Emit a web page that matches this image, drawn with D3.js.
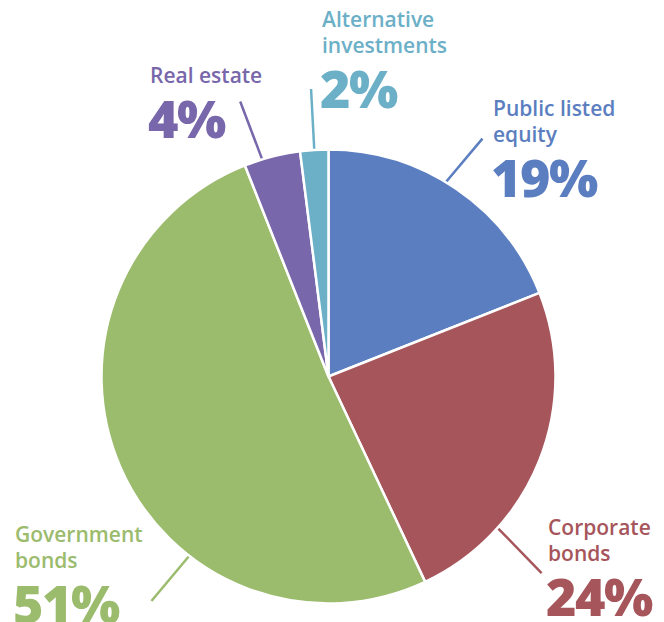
<!DOCTYPE html>
<html>
<head>
<meta charset="utf-8">
<script src="https://cdn.jsdelivr.net/npm/d3@7"></script>
<style>
  body { margin: 0; background: #fff; }
  svg { display: block; font-family: "Open Sans", Lato, sans-serif; }
</style>
</head>
<body>
<svg width="664" height="622"></svg>
<script>
// data, clockwise from 12 o'clock
const categories = ["Public listed equity", "Corporate bonds", "Government bonds", "Real estate", "Alternative investments"];
const shares = [19, 24, 51, 4, 2];
const labelLines = [["Public listed", "equity"], ["Corporate", "bonds"], ["Government", "bonds"], ["Real estate"], ["Alternative", "investments"]];
const colors = ["#5b7ec0", "#a6555b", "#9bbb6d", "#7867aa", "#6cb0c8"];

// where each leader line leaves the pie (percent along the circle) and where the label sits
const layout = [
  { at: 8.6, len: 57, dir: 40.7, x: 493, y: 116 },
  { at: 36.6, len: 63, dir: 136, x: 548, y: 535 },
  { at: 60.5, len: 59, dir: 220, x: 15, y: 542 },
  { at: 95.3, len: 62, dir: 339, x: 150, y: 83 },
  { at: 99.0, len: 61, dir: 357, x: 322, y: 27 }
];

const svg = d3.select("svg");
const cx = 328.5, cy = 376.5, radius = 227;

const g = svg.append("g").attr("transform", "translate(" + cx + "," + cy + ")");

const pie = d3.pie().sort(null).value(d => d);
const arcs = pie(shares);
const arc = d3.arc().innerRadius(0).outerRadius(radius);

const angle = d3.scaleLinear().domain([0, d3.sum(shares)]).range([0, 2 * Math.PI]);

// leader lines behind the slices
g.selectAll(".leader")
  .data(layout)
  .enter()
  .append("line")
  .attr("class", "leader")
  .attr("x1", d => (radius - 4) * Math.sin(angle(d.at)))
  .attr("y1", d => -(radius - 4) * Math.cos(angle(d.at)))
  .attr("x2", d => radius * Math.sin(angle(d.at)) + d.len * Math.sin(d.dir * Math.PI / 180))
  .attr("y2", d => -radius * Math.cos(angle(d.at)) - d.len * Math.cos(d.dir * Math.PI / 180))
  .attr("stroke", (d, i) => colors[i])
  .attr("stroke-width", 2.5);

g.selectAll(".slice")
  .data(arcs)
  .enter()
  .append("path")
  .attr("class", "slice")
  .attr("d", arc)
  .attr("fill", (d, i) => colors[i])
  .attr("stroke", "#fff")
  .attr("stroke-width", 2.5)
  .attr("stroke-linejoin", "round");

const labels = svg.selectAll(".label")
  .data(layout)
  .enter()
  .append("g")
  .attr("class", "label")
  .attr("fill", (d, i) => colors[i]);

labels.each(function (d, i) {
  const sel = d3.select(this);
  labelLines[i].forEach((t, j) => {
    sel.append("text")
      .attr("x", d.x)
      .attr("y", d.y + j * 26)
      .attr("font-size", 21)
      .attr("font-weight", 600)
      .text(t);
  });
  sel.append("text")
    .attr("x", d.x - 2)
    .attr("y", d.y + (labelLines[i].length - 1) * 26 + 55)
    .attr("font-size", 52)
    .attr("font-weight", 800)
    .attr("letter-spacing", -1.5)
    .text(shares[i] + "%");
});
</script>
</body>
</html>
